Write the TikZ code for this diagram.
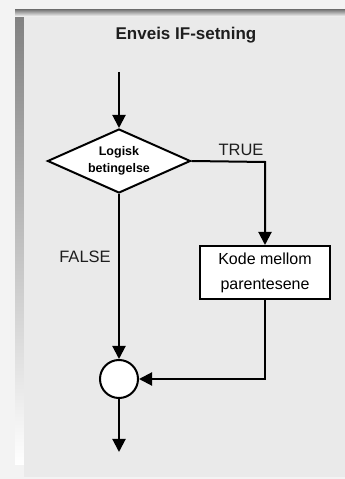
\documentclass[tikz,border=0pt]{standalone}
\usepackage{fontspec}
\setmainfont{Liberation Sans}
\usepackage{xcolor}
\usetikzlibrary{shapes.geometric,arrows.meta}

\begin{document}
\begin{tikzpicture}[x=1pt,y=1pt,
  decision/.style={diamond,draw,fill=white,line width=2pt,aspect=2.2,inner sep=0pt,
    minimum width=143pt,minimum height=64pt,align=center,font=\fontsize{12.5}{17}\selectfont\bfseries},
  block/.style={rectangle,draw,fill=white,line width=2pt,minimum width=130pt,minimum height=53pt,
    align=center,font=\fontsize{16}{25}\selectfont},
  joint/.style={circle,draw,fill=white,line width=2pt,minimum size=38pt,inner sep=0pt},
  flow/.style={line width=2pt,-{Triangle[length=13pt,width=13pt]}},
  tag/.style={font=\fontsize{16.5}{18}\selectfont,text=ink}]
\definecolor{outerbg}{HTML}{F3F3F3}
\definecolor{shade}{HTML}{D2D2D2}
\definecolor{panel}{HTML}{EAEAEA}
\definecolor{ink}{HTML}{1E1E1E}
\useasboundingbox (0,0) rectangle (345,479);
\fill[outerbg] (0,0) rectangle (345,479);
\fill[shade] (15,14) rectangle (24,468);
\fill[shade] (15,462) rectangle (345,469);
\fill[panel] (24,2) rectangle (345,462);
% title
\node[font=\fontsize{17}{20}\selectfont\bfseries,text=ink] (title) at (186,444) {Enveis IF-setning};
% flow chart
\coordinate (start) at (119,407);
\node[decision] (cond) at (119,318) {Logisk\\betingelse};
\node[block] (code) at (265,206.5) {Kode mellom\\parentesene};
\node[joint] (merge) at (119,100) {};
\coordinate (stop) at (119,27);
\coordinate (bend) at (265,317);
\node[tag] (true) at (241,329) {TRUE};
\node[tag] (false) at (85,222) {FALSE};
\draw[flow] (start) -- (cond.north);
\draw[flow] (cond.east) -- (bend) -- (code.north);
\draw[flow] (cond.south) -- (merge.north);
\draw[flow] (code.south) |- (merge.east);
\draw[flow] (merge.south) -- (stop);
\end{tikzpicture}
\end{document}
